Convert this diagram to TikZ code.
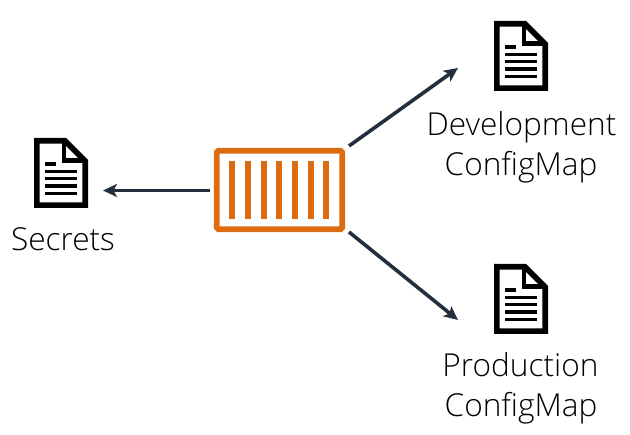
\documentclass[tikz,border=0pt]{standalone}
\usepackage{fontspec}
\setmainfont{Open Sans Light}
\usetikzlibrary{arrows.meta}
\definecolor{awsorange}{HTML}{DD6B10}
\definecolor{awsnavy}{HTML}{232F3E}
\tikzset{
  x=1pt,y=-1pt,
  label text/.style={font=\fontsize{31.6}{40}\selectfont,align=center,text=black,inner sep=0pt,text depth=0pt},
  flow/.style={draw=awsnavy,line width=3.6pt,-{Stealth[length=14pt,width=13pt,inset=3.5pt]}},
  doc box/.style={minimum width=54pt,minimum height=70pt,inner sep=0pt,outer sep=0pt},
  container box/.style={draw=awsorange,line width=5.6pt,rounded corners=1.5pt,minimum width=125.5pt,minimum height=78.5pt,inner sep=0pt,outer sep=2.8pt},
  bar/.style={draw=awsorange,line width=5.8pt},
  doc line/.style={draw=black,line width=3.2pt},
  doc edge/.style={draw=black,line width=5.6pt,miter limit=10}
}
\newcommand{\docicon}[2]{%
  \node[doc box,anchor=north west] (#1) at (#2) {};
  \begin{scope}[shift={(#1.north west)}]
    \draw[doc edge] (2.8,2.8) -- (31,2.8) -- (51.2,23) -- (51.2,67.2) -- (2.8,67.2) -- cycle;
    \draw[draw=black,line width=4.4pt] (30,3) -- (30,22.5) -- (51,22.5);
    \draw[doc line] (11,26) -- (22,26);
    \foreach \yy in {33.3,40.6,48,55.2}{\draw[doc line] (11,\yy) -- (43,\yy);}
  \end{scope}}
\begin{document}
\begin{tikzpicture}
\useasboundingbox (0,0) rectangle (630,435);
\docicon{secretsdoc}{34,138}
\docicon{devdoc}{494,21}
\docicon{proddoc}{494,264}
\node[container box] (box) at (279.5,190) {};
\foreach \xx in {232.3,248,263.7,279.3,295,310.7,326.3}{\draw[bar] (\xx,161) -- (\xx,219);}
\node[label text,anchor=base] (secretslabel) at (63,251) {Secrets};
\node[label text,anchor=base] (devlabel) at (521.5,136) {Development};
\node[label text,anchor=base] (devlabelb) at (521,176) {ConfigMap};
\node[label text,anchor=base] (prodlabel) at (520.5,377) {Production};
\node[label text,anchor=base] (prodlabelb) at (521,417) {ConfigMap};
\coordinate (leftstart) at (210,190.5);
\coordinate (lefttip) at (103,190.5);
\coordinate (upstart) at (349,146);
\coordinate (uptip) at (458,68);
\coordinate (downstart) at (349,232);
\coordinate (downtip) at (458,320);
\draw[flow] (leftstart) -- (lefttip);
\draw[flow] (upstart) -- (uptip);
\draw[flow] (downstart) -- (downtip);
\end{tikzpicture}
\end{document}
